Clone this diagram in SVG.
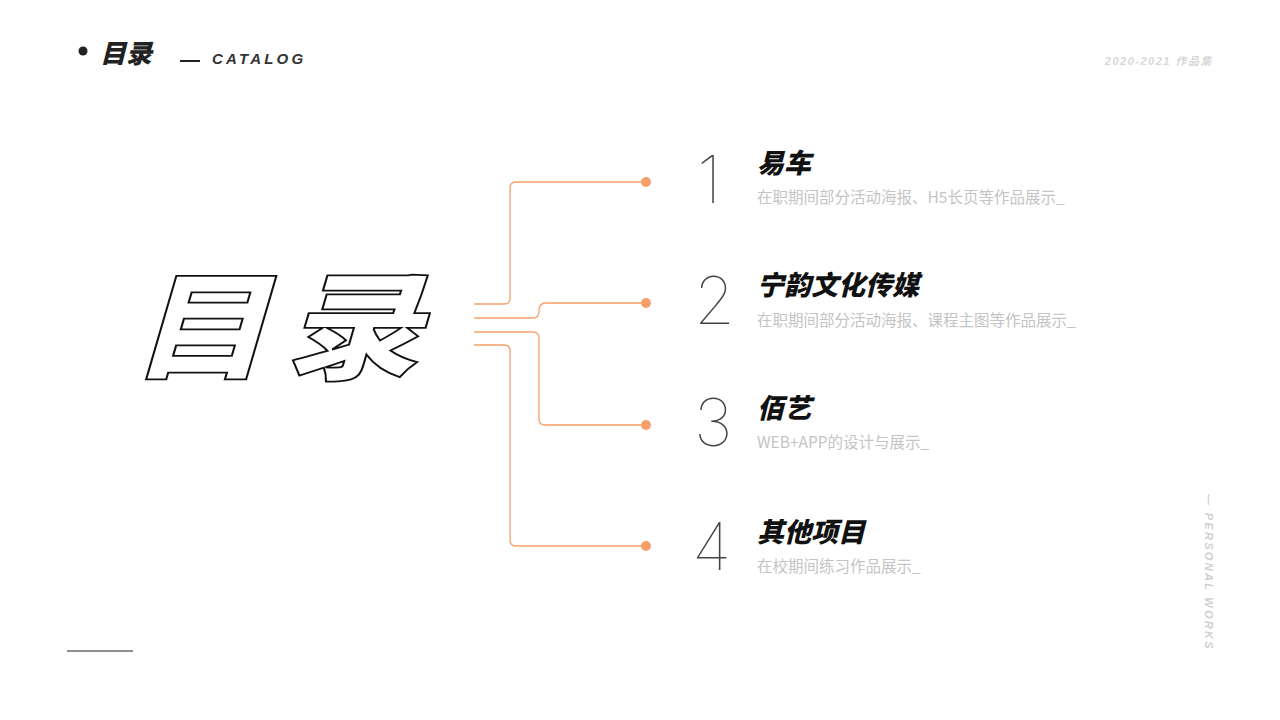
<svg xmlns="http://www.w3.org/2000/svg" width="1280" height="720" viewBox="0 0 1280 720">
<style>
.ln{fill:none;stroke:#f7a06a;stroke-width:1.3}
.dot{fill:#f7a06a}
.num{font-family:Inter,"Liberation Sans",sans-serif;font-weight:100;font-size:66px;fill:#444}
.ttl{font-family:"Noto Sans CJK SC",sans-serif;font-weight:900;font-style:italic;font-size:27px;fill:#111}
.sub{font-family:"Noto Sans CJK SC",sans-serif;font-size:15.5px;fill:#c4c4c4}
</style>
<rect width="1280" height="720" fill="#fff"/>
<g id="header">
<circle cx="83" cy="51" r="4.5" fill="#222"/>
<text x="100" y="63" font-family="'Noto Sans CJK SC',sans-serif" font-weight="900" font-style="italic" font-size="26" fill="#222">目录</text>
<line x1="180" y1="61" x2="200" y2="61" stroke="#222" stroke-width="2"/>
<text x="212" y="64" font-family="'Liberation Sans',sans-serif" font-weight="bold" font-style="italic" font-size="15" letter-spacing="3.2" fill="#333">CATALOG</text>
<text x="1213" y="65" text-anchor="end" font-family="'Liberation Sans','Noto Sans CJK SC',sans-serif" font-weight="bold" font-style="italic" font-size="11" letter-spacing="1.5" fill="#d8d8d8">2020-2021 作品集</text>
</g>
<g id="big-title">
<text x="0" y="0" font-family="'Noto Sans CJK SC',sans-serif" font-weight="900" font-style="italic" font-size="130" fill="#fff" stroke="#111" stroke-width="2" letter-spacing="16" transform="translate(131,370) scale(1.05,0.9)">目录</text>
</g>
<g id="connectors">
<path class="ln" d="M474 304 H504 Q510 304 510 298 V188 Q510 182 516 182 H646"/>
<path class="ln" d="M474 318 H533 Q539 318 539 311 Q539 303 546 303 H646"/>
<path class="ln" d="M474 332 H533 Q539 332 539 338 V419 Q539 425 545 425 H646"/>
<path class="ln" d="M474 345 H504 Q510 345 510 351 V540 Q510 546 516 546 H646"/>
<circle class="dot" cx="646" cy="182" r="5"/>
<circle class="dot" cx="646" cy="303" r="5"/>
<circle class="dot" cx="646" cy="425" r="5"/>
<circle class="dot" cx="646" cy="546" r="5"/>
</g>
<g id="item1">
<text class="num" x="697" y="203">1</text>
<text class="ttl" x="757" y="173">易车</text>
<text class="sub" x="757" y="203">在职期间部分活动海报、H5长页等作品展示_</text>
</g>
<g id="item2">
<text class="num" x="694" y="324">2</text>
<text class="ttl" x="757" y="295">宁韵文化传媒</text>
<text class="sub" x="757" y="326">在职期间部分活动海报、课程主图等作品展示_</text>
</g>
<g id="item3">
<text class="num" x="694" y="446">3</text>
<text class="ttl" x="757" y="418">佰艺</text>
<text class="sub" x="757" y="448">WEB+APP的设计与展示_</text>
</g>
<g id="item4">
<text class="num" x="692" y="570">4</text>
<text class="ttl" x="757" y="542">其他项目</text>
<text class="sub" x="757" y="572">在校期间练习作品展示_</text>
</g>
<g id="footer">
<line x1="67" y1="651" x2="133" y2="651" stroke="#222" stroke-width="1.2"/>
<text transform="translate(1205,494) rotate(90)" font-family="'Liberation Sans',sans-serif" font-weight="bold" font-style="italic" font-size="11" letter-spacing="2.3" fill="#d0d0d0">— PERSONAL WORKS</text>
</g>
</svg>
